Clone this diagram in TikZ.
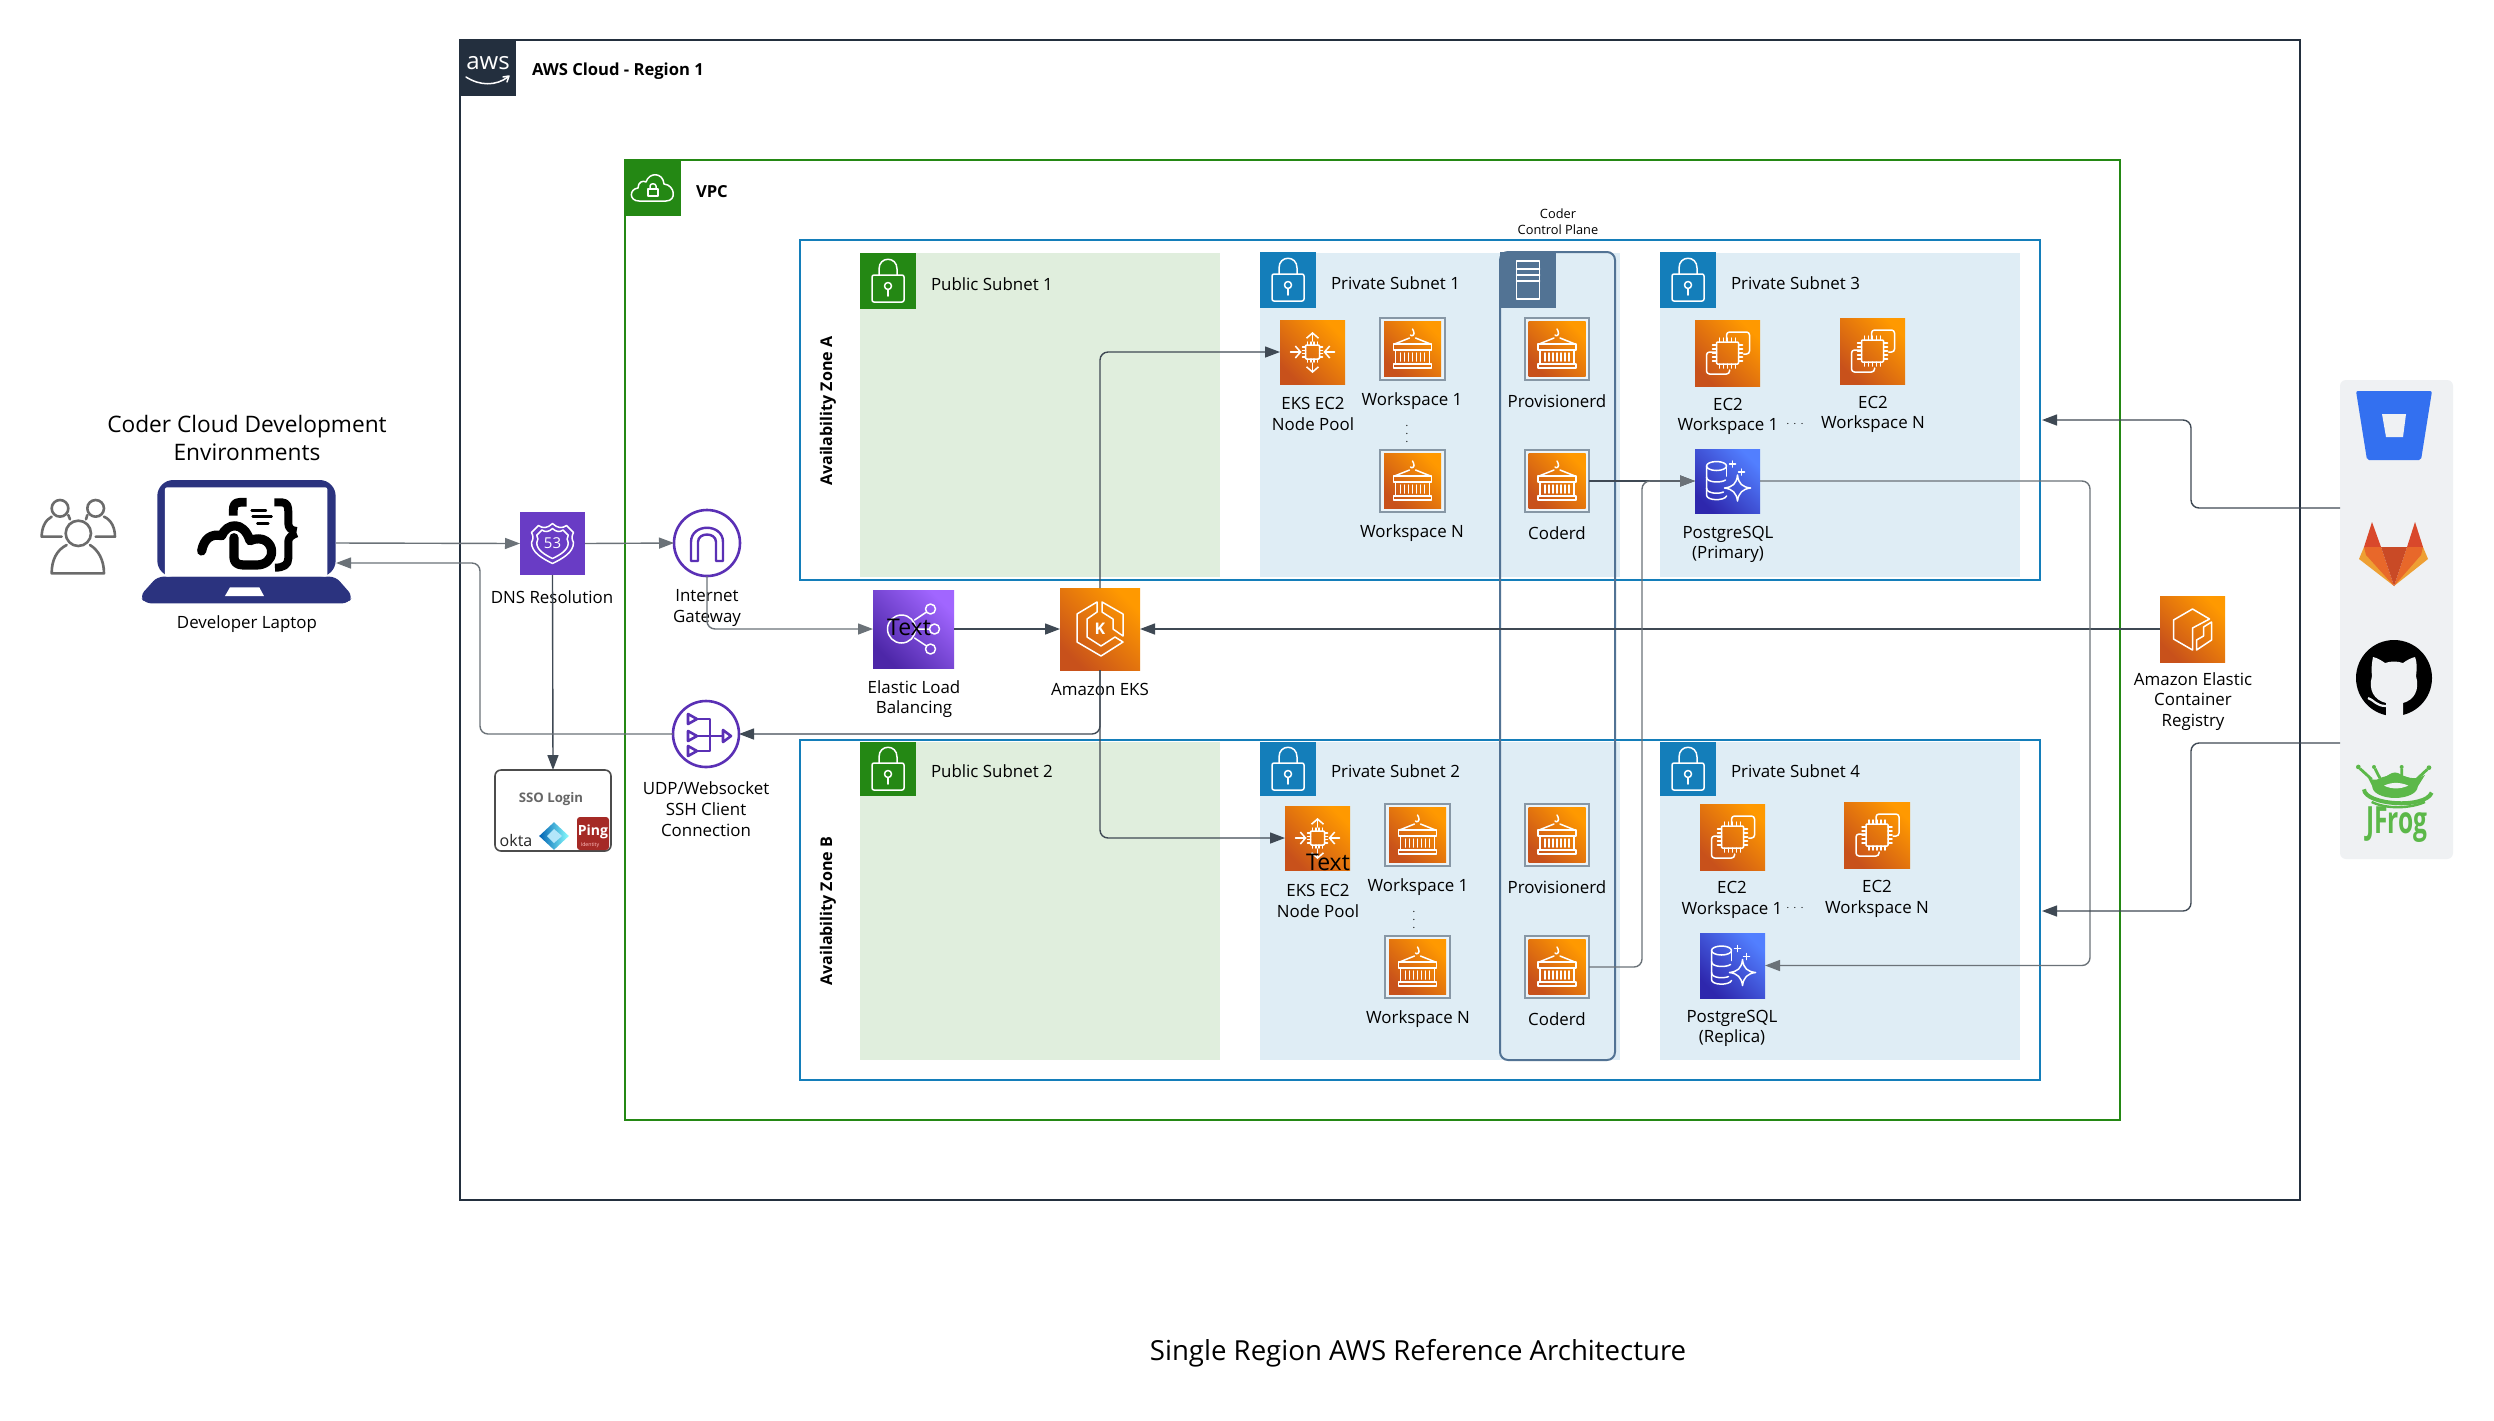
\documentclass[tikz,border=0pt]{standalone}
\usepackage{fontspec}
\setmainfont{Open Sans}
\usetikzlibrary{arrows.meta,shapes.geometric}
\definecolor{awsdark}{HTML}{232F3E}
\definecolor{vpcgreen}{HTML}{248814}
\definecolor{azblue}{HTML}{147EBA}
\definecolor{pubfill}{HTML}{E0EEDD}
\definecolor{privfill}{HTML}{DFEDF5}
\definecolor{cpblue}{HTML}{527394}
\definecolor{ordark}{HTML}{C8511B}
\definecolor{orlight}{HTML}{FF9900}
\definecolor{pudark}{HTML}{4D27A8}
\definecolor{pulight}{HTML}{A166FF}
\definecolor{bldark}{HTML}{2E27AD}
\definecolor{bllight}{HTML}{527FFF}
\definecolor{r53}{HTML}{693CC5}
\definecolor{gwpurple}{HTML}{5A30B5}
\definecolor{lapblue}{HTML}{2B337F}
\definecolor{conndark}{HTML}{3F4954}
\definecolor{conngrey}{HTML}{6B7278}
\definecolor{panel}{HTML}{EFF1F3}
\definecolor{framegrey}{HTML}{8797A5}
\definecolor{jfgreen}{HTML}{5CB849}
\definecolor{glear}{HTML}{D9482B}
\definecolor{glcen}{HTML}{C94A26}
\definecolor{glor}{HTML}{E8682A}
\definecolor{gllight}{HTML}{EE9F33}
\definecolor{bbblue}{HTML}{3370F0}
\definecolor{pingred}{HTML}{A52A26}
\newcommand{\bx}[6]{\node[#1,minimum width={(#5-#3)*0.5pt},minimum height={(#6-#4)*0.5pt}] (#2) at ({(#3+#5)/2},{(#4+#6)/2}) {};}
\newcommand{\lb}[4]{\node[lbl] (#1) at (#2,#3) {#4};}
\newcommand{\lbb}[4]{\node[lbl,anchor=west] (#1) at (#2,#3) {#4};}
\newcommand{\glock}[1]{\begin{scope}[shift={(#1.center)},wl]
 \draw (-9,-6) -- (-9,-12) .. controls (-9,-25) and (9,-25) .. (9,-12) -- (9,-6);
 \draw[rounded corners=1pt] (-16,-6) rectangle (16,21);
 \draw (0,5) circle (3.5); \draw (0,8.5) -- (0,15);
\end{scope}}
\newcommand{\gcrate}[1]{\begin{scope}[shift={(#1.center)},wl]
 \draw (0,-20) -- (1,-18) .. controls (3,-14) and (-1,-12) .. (-2,-14);
 \draw (-18,-5) -- (-3,-11) (3,-11) -- (18,-5);
 \draw (-19,-5) rectangle (19,1);
 \draw (-17,1) -- (-17,15) (17,1) -- (17,15);
 \draw (-19,15) rectangle (19,19);
 \foreach \i in {-12,-8,-4,0,4,8,12} {\draw (\i,4) -- (\i,12);}
\end{scope}}
\newcommand{\gchip}[1]{
 \draw[rounded corners=0.5pt] (-7,-7) rectangle (7,7);
 \foreach \i in {-5,-1.7,1.7,5} {\draw (\i,-7) -- (\i,-10) (\i,7) -- (\i,10) (-7,\i) -- (-10,\i) (7,\i) -- (10,\i);}
}
\newcommand{\gpool}[1]{\begin{scope}[shift={(#1.center)},wl]
 \gchip{}
 \draw[-{Straight Barb[length=2.6pt,width=6pt]}] (0,-11) -- (0,-20);
 \draw[-{Straight Barb[length=2.6pt,width=6pt]}] (0,11) -- (0,21);
 \draw[-{Straight Barb[length=2.6pt,width=6pt]}] (-22,0) -- (-11,0);
 \draw[-{Straight Barb[length=2.6pt,width=6pt]}] (22,0) -- (11,0);
\end{scope}}
\newcommand{\gectwo}[1]{\begin{scope}[shift={(#1.center)},wl]
 \draw[rounded corners=0.5pt] (-11,-11) rectangle (11,11);
 \foreach \i in {-8,-4,0,4,8} {\draw (\i,-11) -- (\i,-15) (\i,11) -- (\i,15) (-11,\i) -- (-15,\i) (11,\i) -- (15,\i);}
 \draw[rounded corners=1.5pt] (-1,-12) -- (-1,-21) -- (22,-21) -- (22,1) -- (16,1);
 \draw[rounded corners=1.5pt] (-11,-1) -- (-21,-1) -- (-21,21) -- (2,21) -- (2,17);
\end{scope}}
\newcommand{\gpg}[1]{\begin{scope}[shift={(#1.center)},wl]
 \draw (-11,-15) ellipse (10 and 4.5);
 \draw (-21,-15) -- (-21,14) .. controls (-21,20) and (-3,20) .. (-1,15);
 \draw (-1,-15) -- (-1,-5);
 \draw (-21,-4) .. controls (-21,2) and (-6,2) .. (-2,-1);
 \draw (-21,7) .. controls (-21,13) and (-8,13) .. (-4,11);
 \draw[fill=none] (10,-6) .. controls (11,3) and (15,6) .. (23,7) .. controls (15,8) and (11,12) .. (10,20) .. controls (9,12) and (5,8) .. (-3,7) .. controls (5,6) and (9,3) .. (10,-6) -- cycle;
 \draw (5,-20) -- (5,-14) (2,-17) -- (8,-17);
 \draw (14,-12) -- (14,-6) (11,-9) -- (17,-9);
\end{scope}}
\tikzset{
 lbl/.style={font=\fontsize{8.45}{10.3}\selectfont,align=center,inner sep=0,outer sep=0,text=black,yshift=-0.6pt},
 azl/.style={lbl,rotate=90,font=\fontsize{8.05}{10}\selectfont\bfseries},
 wl/.style={draw=white,line width=0.75pt,line cap=round,line join=round},
 orbox/.style={rectangle,inner sep=0,outer sep=0,bottom color=ordark,top color=orlight,shading angle=-45},
 pubox/.style={rectangle,inner sep=0,outer sep=0,bottom color=pudark,top color=pulight,shading angle=-45},
 blbox/.style={rectangle,inner sep=0,outer sep=0,bottom color=bldark,top color=bllight,shading angle=-45},
 flatbox/.style={rectangle,inner sep=0,outer sep=0,fill=#1},
 framebox/.style={rectangle,inner sep=0,outer sep=0,draw=framegrey,line width=1pt,fill=privfill!60!white},
 frm/.style={rectangle,inner sep=0,outer sep=0,draw=#1,line width=1pt},
 gwcirc/.style={circle,inner sep=0,outer sep=0,draw=gwpurple,line width=1.3pt,fill=white,minimum size=33pt},
 conn/.style={draw=conndark,line width=0.7pt,rounded corners=4pt,-{Triangle[length=7.5pt,width=5.5pt]}},
 conng/.style={draw=conngrey,line width=0.7pt,rounded corners=4pt,-{Triangle[length=7.5pt,width=5.5pt]}},
}
\newcommand{\crate}[5]{% name x1 y1
 \bx{framebox}{#1}{#2}{#3}{#4}{#5}
 \node[orbox,minimum width=28.5pt,minimum height=27.5pt] (#1i) at (#1.center) {};
 \gcrate{#1}
}
\begin{document}
\begin{tikzpicture}[x=0.5pt,y=-0.5pt]
\useasboundingbox (0,0) rectangle (2494,1420);
\fill[white] (0,0) rectangle (2494,1420);
% frames
\bx{frm=awsdark}{aws}{460}{40}{2300}{1200}
\bx{frm=vpcgreen}{vpc}{625}{160}{2120}{1120}
\bx{frm=azblue}{aza}{800}{240}{2040}{580}
\bx{frm=azblue}{azb}{800}{740}{2040}{1080}
% subnets
\bx{flatbox=pubfill}{pub1}{860}{253}{1220}{577}
\bx{flatbox=privfill}{pri1}{1260}{253}{1620}{577}
\bx{flatbox=privfill}{pri3}{1660}{253}{2020}{577}
\bx{flatbox=pubfill}{pub2}{860}{742}{1220}{1060}
\bx{flatbox=privfill}{pri2}{1260}{742}{1620}{1060}
\bx{flatbox=privfill}{pri4}{1660}{742}{2020}{1060}
% tags
\bx{flatbox=awsdark}{awstag}{460}{40}{516}{96}
\bx{flatbox=vpcgreen}{vpctag}{625}{160}{681}{216}
\bx{flatbox=vpcgreen}{t1}{860}{253}{916}{309}
\bx{flatbox=azblue}{t2}{1260}{252}{1316}{308}
\bx{flatbox=azblue}{t3}{1660}{252}{1716}{308}
\bx{flatbox=vpcgreen}{t4}{860}{742}{916}{796}
\bx{flatbox=azblue}{t5}{1260}{742}{1316}{796}
\bx{flatbox=azblue}{t6}{1660}{742}{1716}{796}
\bx{flatbox=cpblue}{cptag}{1500}{252}{1556}{308}
\glock{t1}\glock{t2}\glock{t3}\glock{t4}\glock{t5}\glock{t6}
% aws logo
\node[inner sep=0,text=white,font=\fontsize{12}{12}\selectfont] (awslogo) at ([yshift=2.3pt]awstag.center) {aws};
\begin{scope}[shift={(awstag.center)},wl]
 \draw (-22,9) .. controls (-8,18) and (8,18) .. (20,9);
 \draw (15,9) -- (21,8) -- (19,14);
\end{scope}
% vpc cloud
\begin{scope}[shift={(vpctag.center)},wl]
 \draw (-14,13) .. controls (-24,13) and (-24,1) .. (-15,0) .. controls (-15,-6) and (-10,-8) .. (-7,-6) .. controls (-4,-16) and (10,-16) .. (11,-4) .. controls (22,-3) and (24,13) .. (13,13) -- cycle;
 \draw (-5,1) rectangle (5,8);
 \draw (-3,1) -- (-3,-2) .. controls (-3,-5) and (3,-5) .. (3,-2) -- (3,1);
\end{scope}
% server glyph
\begin{scope}[shift={(cptag.center)},wl]
 \draw (-11.5,-19) rectangle (11.5,19);
 \draw (-11.5,-11) -- (11.5,-11) (-11.5,-5) -- (11.5,-5) (-11.5,1) -- (11.5,1);
\end{scope}
% frame labels
\node[lbl,anchor=west,font=\fontsize{8.3}{10.3}\selectfont\bfseries] (awsl) at (532,70) {AWS Cloud - Region 1};
\node[lbl,anchor=west,font=\fontsize{8.3}{10.3}\selectfont\bfseries] (vpcl) at (696,190) {VPC};
\node[azl] (aza1) at (828,410) {Availability Zone A};
\node[azl] (azb1) at (828,910) {Availability Zone B};
\lbb{s1}{931}{283}{Public Subnet 1}
\lbb{s2}{1331}{282}{Private Subnet 1}
\lbb{s3}{1731}{282}{Private Subnet 3}
\lbb{s4}{931}{770}{Public Subnet 2}
\lbb{s5}{1331}{770}{Private Subnet 2}
\lbb{s6}{1731}{770}{Private Subnet 4}
\node[lbl,font=\fontsize{6.4}{8}\selectfont] (cpl) at (1558,220) {Coder\\Control Plane};
% AZ A icons
\bx{orbox}{pool1}{1280}{320}{1345}{384}\gpool{pool1}
\crate{ws1a}{1380}{318}{1445}{380}
\crate{wsna}{1380}{450}{1445}{512}
\crate{prov1}{1525}{318}{1589}{380}
\crate{cod1}{1525}{450}{1589}{512}
\bx{orbox}{ec1}{1695}{320}{1760}{386}\gectwo{ec1}
\bx{orbox}{ecn1}{1840}{318}{1905}{384}\gectwo{ecn1}
\bx{blbox}{pg1}{1695}{449}{1760}{513}\gpg{pg1}
\lb{l1}{1313}{413}{EKS EC2\\Node Pool}
\lb{l2}{1412}{400}{Workspace 1}
\lb{l3}{1412}{532}{Workspace N}
\lb{l4}{1557}{400}{Provisionerd}
\lb{l5}{1557}{532}{Coderd}
\lb{l6}{1728}{415}{EC2\\Workspace 1}
\lb{l7}{1873}{413}{EC2\\Workspace N}
\lb{l8}{1728}{543}{PostgreSQL\\(Primary)}
\node[lbl,font=\fontsize{5}{5}\selectfont] (d1) at (1407,427) {$\vdots$};
\node[lbl,font=\fontsize{5.5}{5.5}\selectfont] (d2) at (1795,423) {$\cdots$};
% AZ B icons
\bx{orbox}{pool2}{1285}{806}{1350}{870}\gpool{pool2}
\crate{ws1b}{1385}{804}{1450}{866}
\crate{wsnb}{1385}{936}{1450}{998}
\crate{prov2}{1525}{804}{1589}{866}
\crate{cod2}{1525}{936}{1589}{998}
\bx{orbox}{ec2}{1700}{804}{1765}{870}\gectwo{ec2}
\bx{orbox}{ecn2}{1844}{802}{1910}{868}\gectwo{ecn2}
\bx{blbox}{pg2}{1700}{933}{1765}{998}\gpg{pg2}
\lb{m1}{1318}{899.5}{EKS EC2\\Node Pool}
\lb{m2}{1418}{886}{Workspace 1}
\lb{m3}{1418}{1018}{Workspace N}
\lb{m4}{1557}{886}{Provisionerd}
\lb{m5}{1557}{1018}{Coderd}
\lb{m6}{1732}{898.5}{EC2\\Workspace 1}
\lb{m7}{1877}{897.5}{EC2\\Workspace N}
\lb{m8}{1732}{1027}{PostgreSQL\\(Replica)}
\node[lbl,font=\fontsize{5}{5}\selectfont] (d3) at (1414,913) {$\vdots$};
\node[lbl,font=\fontsize{5.5}{5.5}\selectfont] (d4) at (1795,907) {$\cdots$};
% control plane box
\bx{frm=cpblue,rounded corners=4pt}{cp}{1500}{252}{1615}{1060}
% middle icons
\bx{pubox}{elb}{873}{590}{954}{668}
\begin{scope}[shift={(elb.center)},wl]
 \draw (-12,0) circle (14);
 \draw (17,-20) circle (5) (21,0) circle (5) (17,20) circle (5);
 \draw (1,-9) -- (13,-17) (2,0) -- (16,0) (1,9) -- (13,17);
\end{scope}
\bx{orbox}{eks}{1060}{588}{1140}{670}
\begin{scope}[shift={(eks.center)},wl]
 \draw (-3,-27) -- (-23,-15) -- (-23,13) -- (1,27) -- (23,13) -- (15,8) -- (1,17) -- (-13,8) -- (-13,-10) -- (-3,-17) -- cycle;
 \draw (2,-27) -- (23,-15) -- (23,7) -- (13,0) -- (13,-10) -- (2,-17) -- cycle;
\end{scope}
\node[inner sep=0,text=white,font=\fontsize{8}{8}\selectfont\bfseries] (eksk) at ([yshift=0.3pt]eks.center) {K};
\bx{orbox}{ecr}{2160}{596}{2225}{662}
\begin{scope}[shift={(ecr.center)},wl]
 \draw (0,21) -- (-19,10) -- (-19,-9) -- (0,-20) -- (17,-10) -- (0,-1) -- cycle;
 \draw (4,21) -- (19,11) -- (19,-7) -- (11,-2) -- (11,7) -- (4,11) -- cycle;
\end{scope}
\bx{flatbox=r53}{r53n}{520}{512}{585}{575}
\begin{scope}[shift={(r53n.center)},wl]
 \draw (0,-20) .. controls (-5,-15) and (-10,-15) .. (-14,-18) -- (-21,-11) .. controls (-19,-7) and (-19,-5) .. (-21,-1) .. controls (-21,9) and (-10,15) .. (0,20) .. controls (10,15) and (21,9) .. (21,-1) .. controls (19,-5) and (19,-7) .. (21,-11) -- (14,-18) .. controls (10,-15) and (5,-15) .. (0,-20) -- cycle;
 \draw[scale=0.75] (0,-20) .. controls (-5,-15) and (-10,-15) .. (-14,-18) -- (-21,-11) .. controls (-19,-7) and (-19,-5) .. (-21,-1) .. controls (-21,9) and (-10,15) .. (0,20) .. controls (10,15) and (21,9) .. (21,-1) .. controls (19,-5) and (19,-7) .. (21,-11) -- (14,-18) .. controls (10,-15) and (5,-15) .. (0,-20) -- cycle;
\end{scope}
\node[inner sep=0,text=white,font=\fontsize{7.5}{8}\selectfont] (r53t) at (r53n.center) {53};
\node[gwcirc] (igw) at (707,543) {};
\begin{scope}[shift={(igw.center)},draw=gwpurple,line width=1.2pt,line join=round]
 \draw (-16,18) -- (-16,-1) .. controls (-16,-20) and (16,-20) .. (16,-1) -- (16,18) -- (9,18) -- (9,-1) .. controls (9,-11) and (-9,-11) .. (-9,-1) -- (-9,18) -- cycle;
\end{scope}
\node[gwcirc] (nat) at (706,734) {};
\begin{scope}[shift={(nat.center)},draw=gwpurple,line width=1.3pt,line join=round]
 \draw (-18,-20) -- (-9,-15) -- (-18,-10) -- cycle;
 \draw (-18,-3) -- (-9,2) -- (-18,7) -- cycle;
 \draw (-18,12) -- (-9,17) -- (-18,22) -- cycle;
 \draw (-8,-15) -- (4,-15) -- (4,17) -- (-8,17);
 \draw (-8,2) -- (17,2);
 \draw (17,-4) -- (25,2) -- (17,8) -- cycle;
\end{scope}
\lb{e1}{914}{698}{Elastic Load\\Balancing}
\lb{e2}{1100}{688.5}{Amazon EKS}
\lb{e3}{2193}{700}{Amazon Elastic\\Container\\Registry}
\lb{e4}{552}{596}{DNS Resolution}
\lb{e5}{707}{607}{Internet\\Gateway}
\lb{e6}{706}{808}{UDP/Websocket\\SSH Client\\Connection}
% left side
\node[lbl,font=\fontsize{11.35}{14}\selectfont] (title1) at (247,437) {Coder Cloud Development\\Environments};
\lb{lapl}{247}{623}{Developer Laptop}
\node[lbl,font=\fontsize{13.8}{16}\selectfont] (foot) at (1418,1352) {Single Region AWS Reference Architecture};
% users
\begin{scope}[shift={(30,470)},scale=0.3333,draw=black!58,line width=1.3pt,line cap=round,line join=round]
 \draw (90,115) circle (25) (197,115) circle (25);
 \draw (65,140) .. controls (45,150) and (35,175) .. (35,200) -- (95,200);
 \draw (115,135) -- (120,148);
 \draw (222,140) .. controls (245,150) and (255,175) .. (255,200) -- (197,200);
 \draw (172,135) -- (168,148);
 \draw (145,190) circle (38);
 \draw (110,225) .. controls (80,240) and (65,270) .. (65,310) -- (222,310) .. controls (222,270) and (205,240) .. (180,225);
\end{scope}
% laptop
\begin{scope}[shift={(30,470)},scale=0.3333]
 \fill[lapblue,rounded corners=8pt] (382,320) -- (382,30) -- (917,30) -- (917,320) -- cycle;
 \fill[lapblue,rounded corners=3pt] (382,320) -- (330,378) -- (345,400) -- (955,400) -- (968,378) -- (917,320) -- cycle;
 \fill[white,rounded corners=1pt] (405,52) rectangle (892,320);
 \fill[white] (600,352) -- (688,352) -- (702,378) -- (585,378) -- cycle;
 \begin{scope}[draw=black,line cap=round,line join=round]
 \draw[line width=4.4pt,line cap=butt] (650,97) -- (630,97) .. controls (613,97) and (610,108) .. (610,120) -- (610,137);
 \draw[line width=4pt,line cap=butt] (733,97) -- (755,97) .. controls (772,97) and (775,110) .. (775,125) -- (775,160) .. controls (775,175) and (785,182) .. (800,183);
 \draw[line width=4pt,line cap=butt] (800,190) .. controls (785,195) and (775,203) .. (775,215) -- (775,265) .. controls (775,285) and (760,293) .. (735,293);
 \draw[line width=1.2pt] (665,122) -- (708,122) (668,140) -- (725,140) (682,160) -- (715,160);
 \draw[line width=4.6pt] (515,243) .. controls (522,205) and (545,190) .. (575,197) .. controls (590,160) and (640,150) .. (660,212) .. controls (700,195) and (725,220) .. (725,245) .. controls (725,270) and (705,285) .. (680,285) -- (640,285) .. controls (620,285) and (612,275) .. (612,262) -- (612,203);
 \end{scope}
\end{scope}
\bx{inner sep=0,outer sep=0}{lap}{157}{480}{336}{603}
% SSO
\bx{rectangle,inner sep=0,outer sep=0,draw=black!70,line width=0.8pt,fill=white,rounded corners=3pt}{sso}{495}{770}{611}{851}
\node[inner sep=0,text=black!60,font=\fontsize{6.6}{8}\selectfont\bfseries] (ssot) at (551,799) {SSO Login};
\node[inner sep=0,text=black!85,font=\fontsize{8}{8}\selectfont] (okta) at (516,840) {okta};
\node[diamond,inner sep=0,minimum width=15pt,minimum height=14pt,left color=blue!45!cyan!70!black,right color=cyan!45!white] (azd) at (554,836) {};
\fill[white!70!cyan] (554,829) -- (562,836) -- (554,843) -- (547,836) -- cycle;
\bx{flatbox=pingred,rounded corners=1.5pt}{ping}{577}{817}{609}{850}
\node[inner sep=0,text=white,font=\fontsize{7}{8}\selectfont\bfseries] (pingt) at (593,832) {Ping};
\node[inner sep=0,text=white!75!red,font=\fontsize{2.6}{3}\selectfont] (pingi) at (590,845) {Identity};
% tools panel
\bx{flatbox=panel,rounded corners=3pt}{tools}{2340}{380}{2453}{859}
\fill[bbblue,rounded corners=1pt] (2356,391) -- (2432,391) -- (2421,460) -- (2367,460) -- cycle;
\fill[panel] (2382,414) -- (2406,414) -- (2403,437) -- (2386,437) -- cycle;
% gitlab
\fill[glear] (2372,522) -- (2381,547) -- (2364,547) -- cycle;
\fill[glear] (2415,522) -- (2423,547) -- (2407,547) -- cycle;
\fill[gllight] (2364,547) -- (2359,559) -- (2394,586) -- cycle;
\fill[gllight] (2423,547) -- (2428,559) -- (2394,586) -- cycle;
\fill[glor] (2364,547) -- (2381,547) -- (2394,586) -- (2366,555) -- cycle;
\fill[glor] (2423,547) -- (2407,547) -- (2394,586) -- (2421,555) -- cycle;
\fill[glcen] (2381,547) -- (2407,547) -- (2394,586) -- cycle;
% github
\fill[black] (2394,678) circle (38);
\fill[panel] (2386,717) -- (2386,703) .. controls (2374,700) and (2368,690) .. (2372,676) .. controls (2371,668) and (2372,662) .. (2373,657) .. controls (2378,658) and (2382,661) .. (2385,663) .. controls (2391,661) and (2397,661) .. (2403,663) .. controls (2407,660) and (2411,658) .. (2415,657) .. controls (2417,662) and (2417,668) .. (2416,676) .. controls (2420,690) and (2414,700) .. (2403,703) -- (2403,717) -- cycle;
\draw[panel,line width=1.1pt] (2368,698) .. controls (2374,700) and (2376,706) .. (2386,706);
% jfrog
\begin{scope}[shift={(2130,370)},scale=0.3333]
 \fill[jfgreen] (795,1250) ellipse (68 and 34);
 \fill[jfgreen] (715,1225) .. controls (740,1235) and (760,1225) .. (775,1215) .. controls (790,1205) and (800,1205) .. (815,1215) .. controls (835,1225) and (860,1230) .. (885,1215) -- (860,1255) -- (730,1255) -- cycle;
 \fill[panel] (762,1247) .. controls (785,1236) and (810,1236) .. (835,1247) .. controls (810,1258) and (785,1258) .. (762,1247) -- cycle;
 \draw[jfgreen,line width=2pt] (702,1258) .. controls (705,1305) and (885,1318) .. (905,1268);
 \draw[jfgreen,line width=1.2pt] (725,1296) .. controls (770,1318) and (840,1316) .. (885,1296);
 \fill[jfgreen] (685,1191) circle (7) (732,1191) circle (6) (815,1191) circle (6) (897,1193) circle (7);
 \draw[jfgreen,line width=1.4pt] (690,1196) -- (725,1228) (735,1196) -- (750,1225) (815,1196) -- (815,1218) (892,1198) -- (860,1228);
\end{scope}
\node[inner sep=0,text=jfgreen] (jfrogt) at (2397,825) {\scalebox{0.82}[1.25]{\fontsize{15}{15}\selectfont\bfseries JFrog}};
% free ends
\coordinate (lapOut) at (336,543);
\coordinate (lapIn) at (336,563);
\coordinate (natBus) at (480,650);
\coordinate (cBus) at (1642,700);
\coordinate (pgBus) at (2090,700);
\coordinate (toolsA) at (2340,508);
\coordinate (toolsB) at (2340,743);
\coordinate (busA) at (2191,460);
\coordinate (busB) at (2191,830);
\coordinate (azAin) at (2042,420);
\coordinate (azBin) at (2042,911);
% connectors
\draw[conng] (lapOut) -- (r53n.west);
\draw[conng] (r53n.east) -- (igw.west);
\draw[conn] (r53n.south) -- (sso.north);
\draw[conng] (igw.south) |- (elb.west);
\draw[conn] (elb.east) -- (eks.west);
\draw[conn] (ecr.west) -- (eks.east);
\draw[conn] (eks.north) |- (pool1.west);
\draw[conn] (eks.south) |- (pool2.west);
\draw[conn] (eks.south) |- (nat.east);
\draw[conng] (nat.west) -| (natBus) |- (lapIn);
\draw[conn] (cod1.east) -- (pg1.west);
\draw[conng] (cod2.east) -| (cBus) |- (pg1.west);
\draw[conng] (pg1.east) -| (pgBus) |- (pg2.east);
\draw[conn] (toolsA) -| (busA) |- (azAin);
\draw[conn] (toolsB) -| (busB) |- (azBin);
% stray Text labels
\node[inner sep=0,text=black,font=\fontsize{11.5}{12}\selectfont] (txt1) at (909,627) {Text};
\node[inner sep=0,text=black,font=\fontsize{11.5}{12}\selectfont] (txt2) at (1328,862) {Text};
\end{tikzpicture}
\end{document}
